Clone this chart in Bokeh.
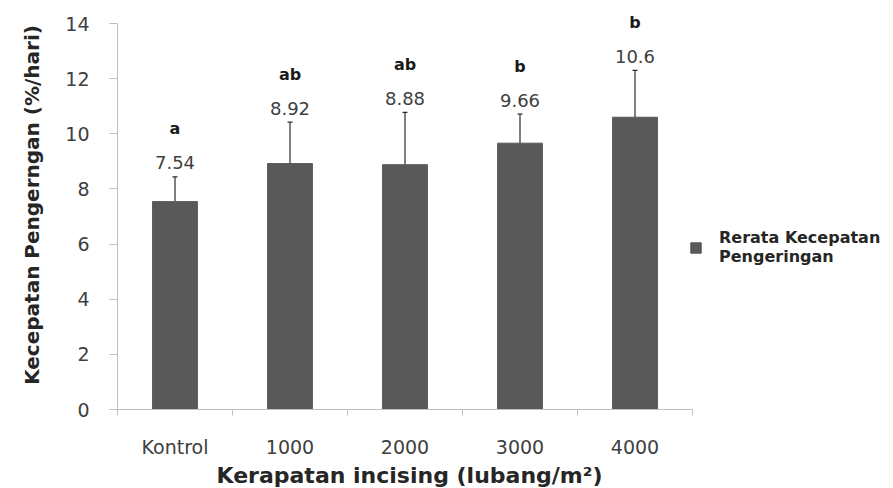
from bokeh.plotting import figure
from bokeh.models import (ColumnDataSource, FixedTicker, Whisker, TeeHead, LabelSet,
                          Legend, LegendItem, Range1d, Title)
from bokeh.core.properties import value
from bokeh.embed import file_html
from bokeh.resources import INLINE

# ---- data ----
categories = ["Kontrol", "1000", "2000", "3000", "4000"]
means = [7.54, 8.92, 8.88, 9.66, 10.6]
errors = [0.9, 1.5, 1.9, 1.05, 1.7]
letters = ["a", "ab", "ab", "b", "b"]
value_labels = ["7.54", "8.92", "8.88", "9.66", "10.6"]
y_ticks = [0, 2, 4, 6, 8, 10, 12, 14]
x_title = "Kerapatan incising  (lubang/m²)"
y_title = "Kecepatan Pengerngan (%/hari)"
legend_label = "Rerata Kecepatan\nPengeringan"

xs = [i + 0.5 for i in range(len(categories))]
src = ColumnDataSource(dict(
    x=xs, top=means,
    upper=[m + e for m, e in zip(means, errors)],
    lower=[m - e for m, e in zip(means, errors)],
    vlab=value_labels, let=letters,
))

W, H = 893, 488
left, bottom_b = 117, 79
px_per_cat = 115.0
frame_w = W - left
frame_h = H - bottom_b
px_per_unit = (409 - 23) / 14.0
p = figure(width=W, height=H, output_backend="svg", toolbar_location=None,
           x_range=Range1d(0, frame_w / px_per_cat),
           y_range=Range1d(0, frame_h / px_per_unit),
           min_border_left=left, min_border_right=0, min_border_top=0,
           min_border_bottom=bottom_b)
p.outline_line_color = None
p.grid.visible = False
p.background_fill_color = "white"
p.border_fill_color = "white"

bars = p.vbar(x="x", top="top", width=0.39, bottom=0, source=src,
              fill_color="#595959", line_color="#595959")

wh = Whisker(base="x", upper="upper", lower="lower", source=src,
             line_color="#2b2b2b", line_width=1.2,
             upper_head=TeeHead(size=5, line_color="#2b2b2b", line_width=1.2),
             lower_head=TeeHead(size=5, line_color="#2b2b2b", line_width=1.2))
p.add_layout(wh)

vl = LabelSet(x="x", y="upper", text="vlab", source=src, y_offset=14,
              text_align="center", text_baseline="middle",
              text_font=value("DejaVu Sans"), text_font_size="18px", text_color="#404040")
ll = LabelSet(x="x", y="upper", text="let", source=src, y_offset=48,
              text_align="center", text_baseline="middle",
              text_font=value("DejaVu Sans"), text_font_size="16px", text_font_style="bold",
              text_color="#1a1a1a")
p.add_layout(vl)
p.add_layout(ll)

# x axis
xa = p.xaxis[0]
xa.ticker = FixedTicker(ticks=xs, minor_ticks=[float(i) for i in range(len(categories) + 1)])
xa.major_label_overrides = {x: c for x, c in zip(xs, categories)}
xa.bounds = (0, len(categories))
xa.axis_line_color = "#bfbfbf"
xa.major_tick_line_color = None
xa.minor_tick_line_color = "#bfbfbf"
xa.minor_tick_out = 6
xa.minor_tick_in = 0
xa.major_label_standoff = 20
xa.major_label_text_font = "DejaVu Sans"
xa.major_label_text_font_size = "19px"
xa.major_label_text_color = "#404040"

# x-axis title, centred under the five categories (approx. text width 393 px)
x_title_offset = len(categories) * px_per_cat / 2.0 - 393 / 2.0 + 8
p.add_layout(Title(text=x_title, align="left", offset=x_title_offset, standoff=0,
                   text_font="DejaVu Sans", text_font_size="22px",
                   text_font_style="bold", text_color="#262626"), "below")

# y axis
ya = p.yaxis[0]
ya.ticker = FixedTicker(ticks=y_ticks, minor_ticks=[])
ya.bounds = (0, 14)
ya.axis_line_color = "#bfbfbf"
ya.major_tick_line_color = "#bfbfbf"
ya.major_tick_out = 8
ya.major_tick_in = 0
ya.minor_tick_line_color = None
ya.major_label_standoff = 20
ya.major_label_text_font = "DejaVu Sans"
ya.major_label_text_font_size = "19px"
ya.major_label_text_color = "#404040"
ya.axis_label = y_title
ya.axis_label_text_font = "DejaVu Sans"
ya.axis_label_text_font_size = "20px"
ya.axis_label_text_font_style = "bold"
ya.axis_label_text_color = "#262626"
ya.axis_label_standoff = 18

legend = Legend(items=[LegendItem(label=legend_label, renderers=[bars])],
                location=(572, 143), padding=0, margin=0, border_line_color=None,
                background_fill_alpha=0, glyph_width=13, glyph_height=13,
                label_standoff=17, label_text_font="DejaVu Sans",
                label_text_font_size="16px", label_text_font_style="bold",
                label_text_color="#262626", label_text_line_height=1.0)
p.add_layout(legend)

open("out.html", "w").write(file_html(p, INLINE))
